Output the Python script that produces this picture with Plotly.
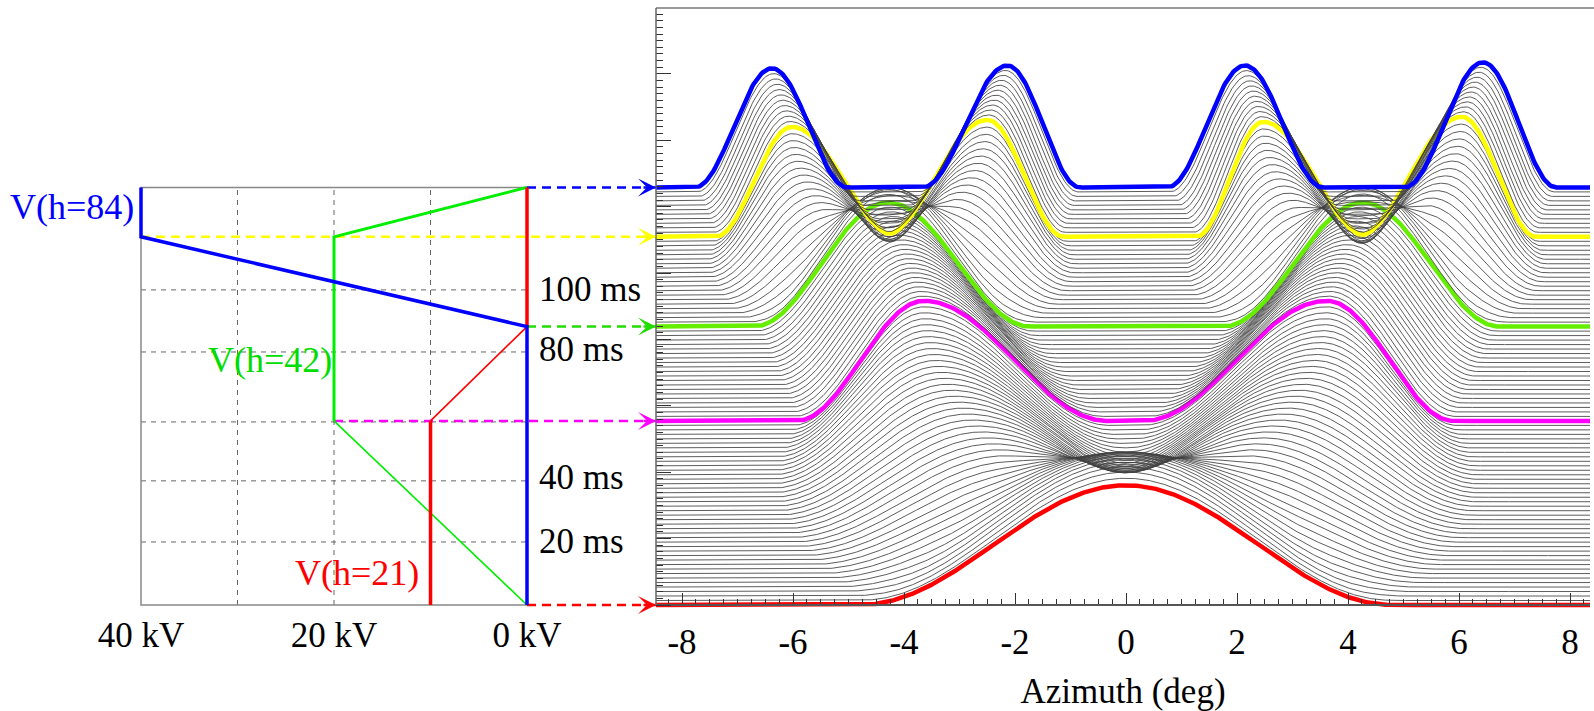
import numpy as np
import plotly.graph_objects as go

W, H = 1594, 711

# ---------------- values ----------------
trace_step_ms = 1.425            # time between successive traces
n_traces = 94
key_index = [0, 41, 62, 82, 93]  # red, magenta, green, yellow, blue traces
curve_colors = ["#ff0000", "#ff00ff", "#66ee00", "#ffff00", "#0000ff"]
arrow_colors = ["#ff0000", "#ff00ff", "#22dd00", "#ffff00", "#0000ff"]
arrow_start_kv = [0, 20, 0, 40, 0]

# bunch centres (deg), heights (y-axis units), half widths left / right (deg)
red_centre = [0.0, 0.0, 0.0, 0.0]
red_height = [9.5, 9.5, 9.5, 9.5]
red_wleft = [4.8, 4.8, 4.8, 4.8]
red_wright = [4.8, 4.8, 4.8, 4.8]

magenta_centre = [-3.64, -3.64, 3.62, 3.62]
magenta_height = [19.05, 19.05, 19.05, 19.05]
magenta_wleft = [2.3, 2.3, 3.3, 3.3]
magenta_wright = [3.3, 3.3, 2.28, 2.28]

green_centre = [-4.29, -4.29, 4.27, 4.27]
green_height = [19.7, 19.7, 19.7, 19.7]
green_wleft = [2.42, 2.42, 2.52, 2.52]
green_wright = [2.56, 2.56, 2.46, 2.46]

yellow_centre = [-6.02, -2.5, 2.47, 6.05]
yellow_height = [34.9, 37.1, 36.5, 38.1]
yellow_wleft = [1.38, 1.9, 1.21, 1.9]
yellow_wright = [1.9, 1.38, 1.9, 1.34]

blue_centre = [-6.38, -2.14, 2.14, 6.43]
blue_height = [37.8, 38.7, 38.7, 39.7]
blue_wleft = [1.39, 1.53, 1.40, 1.41]
blue_wright = [1.36, 1.31, 1.41, 1.32]

phase_is_split = [True, False, True, False]

# left panel (voltage programme)
kv_ticks = [40, 20, 0]
kv_ticktext = ["40 kV", "20 kV", "0 kV"]
kv_grid = [30, 20, 10]
ms_grid = [20, 39.4, 58.1, 80.3, 100]
ms_labels = ["20 ms", "40 ms", "80 ms", "100 ms"]
ms_label_pos = [20.0, 40.6, 81.2, 100.0]

az_ticks = [-8, -6, -4, -2, 0, 2, 4, 6, 8]
az_ticktext = ["-8", "-6", "-4", "-2", "0", "2", "4", "6", "8"]

# ---------------- geometry (pixels of the 1594x711 page) ----------------
y0_px, px_per_ms, y_top_px, y_bot_px = 605, 3.151, 8, 612
x0deg_px, px_per_deg, xr_left_px, xr_right_px = 1126, 55.5, 656, 1590
kv0_px, px_per_kv, xl_left_px = 527, 9.65, 131

FONT = "Liberation Serif"
FS = 35


def fx(px):
    return px / W


def fy(py):
    return 1 - py / H


y_range = [-(y_bot_px - y0_px) / px_per_ms, (y0_px - y_top_px) / px_per_ms]
x2_range = [(xr_left_px - x0deg_px) / px_per_deg, (xr_right_px - x0deg_px) / px_per_deg]
x1_range = [(kv0_px - xl_left_px) / px_per_kv, -(xr_left_px - kv0_px) / px_per_kv]

t_key = [i * trace_step_ms for i in key_index]
t_red, t_mag, t_grn, t_yel, t_blu = t_key

keys = [
    (red_centre, red_height, red_wleft, red_wright),
    (magenta_centre, magenta_height, magenta_wleft, magenta_wright),
    (green_centre, green_height, green_wleft, green_wright),
    (yellow_centre, yellow_height, yellow_wleft, yellow_wright),
    (blue_centre, blue_height, blue_wleft, blue_wright),
]

az = np.linspace(x2_range[0], x2_range[1], 700)


def params(i):
    for k in range(4):
        i0, i1 = key_index[k], key_index[k + 1]
        if i0 <= i <= i1:
            s = (i - i0) / (i1 - i0)
            e = 1 - (1 - s) ** 2 if phase_is_split[k] else s
            a, b = keys[k], keys[k + 1]
            c = [a[0][j] + (b[0][j] - a[0][j]) * e for j in range(4)]
            h = [a[1][j] + (b[1][j] - a[1][j]) * s for j in range(4)]
            wl = [a[2][j] + (b[2][j] - a[2][j]) * s for j in range(4)]
            wr = [a[3][j] + (b[3][j] - a[3][j]) * s for j in range(4)]
            return c, h, wl, wr


def profile(i):
    c, h, wl, wr = params(i)
    y = np.full_like(az, i * trace_step_ms)
    for j in range(4):
        d = az - c[j]
        w = np.where(d < 0, wl[j], wr[j])
        u = d / w
        y += h[j] * np.where(np.abs(u) < 1, np.cos(np.pi / 2 * u) ** 2, 0.0)
    return y


fig = go.Figure()

# ---------------- right panel: waterfall ----------------
for k in range(5):
    if k > 0:
        xs, ys = [], []
        for i in range(key_index[k - 1] + 1, key_index[k]):
            xs += list(az) + [None]
            ys += list(profile(i)) + [None]
        fig.add_trace(go.Scatter(x=xs, y=ys, mode="lines", xaxis="x2", yaxis="y",
                                 line=dict(color="#404040", width=0.85), hoverinfo="skip"))
    fig.add_trace(go.Scatter(x=az, y=profile(key_index[k]), mode="lines", xaxis="x2", yaxis="y",
                             line=dict(color=curve_colors[k], width=4.5), hoverinfo="skip"))

# ---------------- left panel ----------------
grid_style = dict(color="#666666", width=1, dash="5px,5px")
for kv in kv_grid:
    fig.add_trace(go.Scatter(x=[kv, kv], y=[0, t_blu], mode="lines", xaxis="x", yaxis="y",
                             line=grid_style, hoverinfo="skip"))
for t in ms_grid:
    fig.add_trace(go.Scatter(x=[40, 0], y=[t, t], mode="lines", xaxis="x", yaxis="y",
                             line=grid_style, hoverinfo="skip"))
fig.add_trace(go.Scatter(x=[0, 40, 40, 0], y=[t_blu, t_blu, 0, 0], mode="lines",
                         xaxis="x", yaxis="y", line=dict(color="#888888", width=1.5),
                         hoverinfo="skip"))

# dashed connectors
for k in range(5):
    fig.add_trace(go.Scatter(x=[arrow_start_kv[k], x1_range[1]], y=[t_key[k], t_key[k]],
                             mode="lines", xaxis="x", yaxis="y",
                             line=dict(color=arrow_colors[k], width=2.5, dash="9px,6px"),
                             hoverinfo="skip"))

# V(h=42) green
v42_thin_kv, v42_thin_t = [0, 20], [t_red, t_mag]
v42_kv, v42_t = [20, 20, 0], [t_mag, t_yel, t_blu]
fig.add_trace(go.Scatter(x=v42_thin_kv, y=v42_thin_t, mode="lines", xaxis="x", yaxis="y",
                         line=dict(color="#00ee00", width=1.6), hoverinfo="skip"))
fig.add_trace(go.Scatter(x=v42_kv, y=v42_t, mode="lines", xaxis="x", yaxis="y",
                         line=dict(color="#00ee00", width=3), hoverinfo="skip"))
# V(h=21) red
v21_kv, v21_t = [10, 10], [t_red, t_mag]
v21_ramp_kv, v21_ramp_t = [10, 0], [t_mag, t_grn]
v21_top_kv, v21_top_t = [0, 0], [t_grn, t_blu]
fig.add_trace(go.Scatter(x=v21_kv, y=v21_t, mode="lines", xaxis="x", yaxis="y",
                         line=dict(color="#ff0000", width=3.5), hoverinfo="skip"))
fig.add_trace(go.Scatter(x=v21_ramp_kv, y=v21_ramp_t, mode="lines", xaxis="x", yaxis="y",
                         line=dict(color="#ff0000", width=1.6), hoverinfo="skip"))
fig.add_trace(go.Scatter(x=v21_top_kv, y=v21_top_t, mode="lines", xaxis="x", yaxis="y",
                         line=dict(color="#ff0000", width=3.5), hoverinfo="skip"))
# V(h=84) blue
v84_kv, v84_t = [0, 0, 40, 40], [t_red, t_grn, t_yel, t_blu]
fig.add_trace(go.Scatter(x=v84_kv, y=v84_t, mode="lines", xaxis="x", yaxis="y",
                         line=dict(color="#0000ff", width=3.5), hoverinfo="skip"))

annotations = []
for k in range(5):
    annotations.append(dict(x=x2_range[0], y=t_key[k], xref="x2", yref="y", text="",
                            showarrow=True, ax=-14, ay=0, arrowhead=3, arrowsize=1.2,
                            arrowwidth=2.5, arrowcolor=arrow_colors[k], standoff=0))
for lab, pos in zip(ms_labels, ms_label_pos):
    annotations.append(dict(x=-1.0, y=pos, xref="x", yref="y", text=lab, showarrow=False,
                            xanchor="left", yanchor="middle",
                            font=dict(size=FS, color="black", family=FONT)))
annotations += [
    dict(x=fx(8), y=fy(207), xref="paper", yref="paper", text="V(h=84)", showarrow=False,
         xanchor="left", yanchor="middle", font=dict(size=36, color="#0000ff", family=FONT)),
    dict(x=fx(206), y=fy(360), xref="paper", yref="paper", text="V(h=42)", showarrow=False,
         xanchor="left", yanchor="middle", font=dict(size=36, color="#00dd00", family=FONT)),
    dict(x=fx(293), y=fy(573), xref="paper", yref="paper", text="V(h=21)", showarrow=False,
         xanchor="left", yanchor="middle", font=dict(size=36, color="#ff0000", family=FONT)),
]

shapes = [
    dict(type="line", xref="paper", yref="paper", x0=fx(xr_left_px), x1=1,
         y0=fy(y_top_px), y1=fy(y_top_px), line=dict(color="#777777", width=1.5)),
    dict(type="line", xref="paper", yref="paper", x0=fx(xr_left_px), x1=fx(xr_left_px),
         y0=fy(y_top_px), y1=fy(y0_px), line=dict(color="#666666", width=1.5)),
]

fig.update_layout(
    width=W, height=H, margin=dict(l=0, r=0, t=0, b=0, pad=0, autoexpand=False),
    paper_bgcolor="white", plot_bgcolor="rgba(0,0,0,0)", showlegend=False,
    font=dict(family=FONT, size=FS, color="black"),
    annotations=annotations, shapes=shapes,
    xaxis=dict(domain=[fx(xl_left_px), fx(xr_left_px)], range=x1_range, automargin=False,
               anchor="free", position=fy(y0_px), showgrid=False, zeroline=False,
               showline=False, ticks="", tickvals=kv_ticks, ticktext=kv_ticktext,
               ticklabelstandoff=6, tickfont=dict(size=FS, family=FONT)),
    xaxis2=dict(domain=[fx(xr_left_px), fx(xr_right_px)], range=x2_range, automargin=False,
                anchor="free", position=fy(y0_px), showgrid=False, zeroline=False,
                showline=True, linecolor="#555555", linewidth=1.5,
                ticks="inside", ticklen=11, tickwidth=1, tickcolor="#333333",
                tickvals=az_ticks, ticktext=az_ticktext, ticklabelstandoff=6,
                tickfont=dict(size=FS, family=FONT),
                minor=dict(ticks="inside", ticklen=5, dtick=0.25, tick0=0,
                           tickcolor="#333333", tickwidth=1, showgrid=False),
                title=dict(text="Azimuth (deg)", standoff=23,
                           font=dict(size=FS, family=FONT))),
    yaxis=dict(domain=[fy(y_bot_px), fy(y_top_px)], range=y_range, anchor="x2",
               automargin=False,
               side="left", showgrid=False, zeroline=False, showline=False,
               showticklabels=False, ticks="inside", ticklen=15, tickwidth=1,
               tickcolor="#333333", tick0=0, dtick=21.07,
               minor=dict(ticks="inside", ticklen=7, dtick=2.107, tick0=0,
                          tickcolor="#333333", tickwidth=1, showgrid=False)),
)

fig.write_html("out.html")
